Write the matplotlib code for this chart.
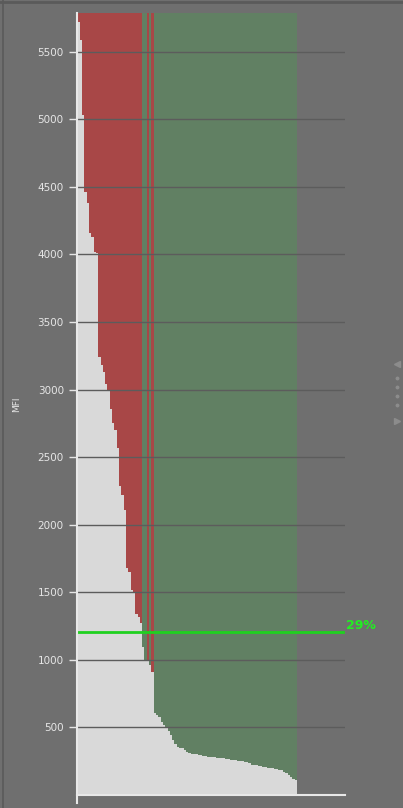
import numpy as np
import matplotlib.pyplot as plt
from matplotlib.lines import Line2D

# MFI per cell, sorted descending
mfi = [5720, 5590, 5030, 4460, 4380, 4160, 4130, 4020, 4010, 3240,
       3180, 3130, 3040, 2990, 2860, 2750, 2700, 2570, 2290, 2220,
       2110, 1680, 1650, 1520, 1500, 1340, 1320, 1270, 1095, 1000,
       990, 960, 910, 610, 590, 580, 540, 515, 500, 470,
       445, 405, 375, 355, 350, 345, 330, 320, 312, 305,
       302, 300, 297, 294, 291, 289, 282, 280, 279, 278,
       276, 275, 273, 271, 269, 267, 262, 260, 258, 255,
       252, 248, 245, 241, 238, 225, 222, 219, 216, 213,
       210, 207, 202, 200, 197, 194, 191, 188, 185, 172,
       162, 150, 135, 122, 110]

# 1 = red class, 0 = green class
flag = [1] * 28 + [0, 0, 1, 0, 1] + [0] * 62

yticks = [500, 1000, 1500, 2000, 2500, 3000, 3500, 4000, 4500, 5000, 5500]
threshold = 1206
y_max = 5787

BG = '#6f6f6f'
RED = '#a84747'
GREEN = '#618063'
BAR = '#d9d9d9'
TXT = '#e6e6e6'

fig = plt.figure(figsize=(4.03, 8.08), dpi=100, facecolor=BG)
W, H = 403, 808
ax = fig.add_axes([77 / W, 13 / H, 268 / W, 782 / H])
ax.set_facecolor(BG)

x = np.arange(len(mfi))
cols = [RED if f else GREEN for f in flag]
ax.bar(x, y_max, width=1, align='edge', color=cols, linewidth=0, zorder=1)
ax.bar(x, mfi, width=1, align='edge', color=BAR, linewidth=0, zorder=2)

for t in yticks:
    ax.axhline(t, color='#5c5c5c', lw=1, zorder=3)

pct = int(100 * sum(v > threshold for v in mfi) / len(mfi))
ax.axhline(threshold, xmax=0.993, color='#1fd11f', lw=2, zorder=4)
ax.text(1.005, threshold, f'{pct}%', transform=ax.get_yaxis_transform(),
        color='#22ee22', fontsize=9, fontweight='bold', va='bottom',
        ha='left', clip_on=False)

ax.set_xlim(-0.2, 115.8)
ax.set_ylim(0, y_max)
ax.set_xticks([])
ax.set_yticks(yticks)
ax.set_yticklabels([str(t) for t in yticks], color=TXT, fontsize=7.5)
ax.tick_params(axis='y', colors=TXT, length=5.5, width=1, pad=4)
ax.set_ylabel('MFI', color=TXT, fontsize=6.5, labelpad=12)

for s in ['top', 'right']:
    ax.spines[s].set_visible(False)
ax.spines['left'].set_color('#e8e8e8')
ax.spines['left'].set_linewidth(1.5)
ax.spines['left'].set_bounds(-60, y_max)
ax.spines['bottom'].set_color('#e8e8e8')
ax.spines['bottom'].set_linewidth(1.5)
ax.spines['left'].set_zorder(5)
ax.set_clip_on(False)

# window chrome: left border and right-side grip
fig.add_artist(Line2D([3 / W, 3 / W], [0, 1], color='#5a5a5a', lw=1.2))
fig.add_artist(Line2D([0, 1], [1 - 2 / H, 1 - 2 / H], color='#5a5a5a', lw=2))
fig.add_artist(Line2D([397 / W], [1 - 364 / H], marker='<', ms=4, color='#8c8c8c', lw=0))
fig.add_artist(Line2D([397 / W], [1 - 421 / H], marker='>', ms=4, color='#8c8c8c', lw=0))
fig.add_artist(Line2D([397 / W] * 4, [1 - y / H for y in (378, 387, 396, 405)],
                      marker='o', ms=1.8, color='#8c8c8c', lw=0))

fig.savefig('out.png', dpi=100, facecolor=BG)
